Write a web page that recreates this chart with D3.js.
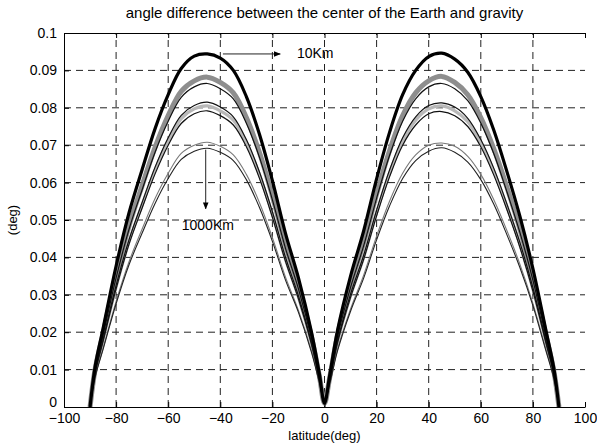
<!DOCTYPE html>
<html>
<head>
<meta charset="utf-8">
<script src="https://cdn.jsdelivr.net/npm/d3@7"></script>
<style>
  html, body { margin: 0; padding: 0; background: #fff; }
  svg { display: block; }
  text { font-family: "Liberation Sans", Arial, Helvetica, sans-serif; fill: #000; }
</style>
</head>
<body>
<svg id="chart" width="597" height="447"></svg>
<script>
// ---------- data ----------
const latitude = [-90,-88,-85,-80,-75,-70,-65,-60,-55,-50,-45,-40,-35,-30,-25,-20,-15,-10,-5,-2,0,
                  2,5,10,15,20,25,30,35,40,45,50,55,60,65,70,75,80,85,88,90];

const h10km   = [0,0.0110,0.0210,0.0377,0.0520,0.0635,0.0745,0.0835,0.0905,0.0938,0.0944,0.0933,0.0900,0.0830,0.0730,0.0605,0.0465,0.0345,0.0200,0.0090,0.0010,
                 0.0085,0.0205,0.0350,0.0470,0.0610,0.0735,0.0835,0.0900,0.0937,0.0946,0.0930,0.0895,0.0830,0.0740,0.0630,0.0510,0.0370,0.0205,0.0105,0];
const hSeries2 = [0,0.0103,0.0196,0.0352,0.0485,0.0592,0.0695,0.0779,0.0844,0.0872,0.0882,0.0868,0.0840,0.0774,0.0681,0.0564,0.0434,0.0322,0.0187,0.0084,0.0010,
                 0.0079,0.0191,0.0327,0.0439,0.0569,0.0686,0.0779,0.0840,0.0872,0.0884,0.0868,0.0835,0.0774,0.0690,0.0588,0.0476,0.0345,0.0191,0.0098,0];
const hSeries3 = [0,0.0101,0.0192,0.0345,0.0476,0.0581,0.0682,0.0764,0.0828,0.0856,0.0865,0.0851,0.0824,0.0759,0.0668,0.0554,0.0425,0.0316,0.0183,0.0082,0.0010,
                 0.0078,0.0188,0.0320,0.0430,0.0558,0.0673,0.0764,0.0824,0.0856,0.0865,0.0851,0.0819,0.0759,0.0677,0.0576,0.0467,0.0339,0.0188,0.0096,0];
const hSeries4 = [0,0.0095,0.0181,0.0325,0.0448,0.0547,0.0642,0.0720,0.0780,0.0806,0.0815,0.0802,0.0776,0.0715,0.0629,0.0522,0.0401,0.0297,0.0172,0.0078,0.0010,
                 0.0073,0.0177,0.0302,0.0405,0.0526,0.0634,0.0720,0.0776,0.0806,0.0813,0.0802,0.0772,0.0715,0.0638,0.0543,0.0440,0.0319,0.0177,0.0091,0];
const hSeries5 = [0,0.0094,0.0179,0.0321,0.0443,0.0541,0.0635,0.0711,0.0771,0.0797,0.0805,0.0792,0.0767,0.0707,0.0622,0.0515,0.0396,0.0294,0.0170,0.0077,0.0010,
                 0.0072,0.0175,0.0298,0.0400,0.0520,0.0626,0.0711,0.0767,0.0797,0.0805,0.0792,0.0763,0.0707,0.0630,0.0537,0.0435,0.0315,0.0175,0.0089,0];
const hSeries6 = [0,0.0092,0.0176,0.0316,0.0436,0.0532,0.0624,0.0700,0.0758,0.0784,0.0792,0.0779,0.0754,0.0696,0.0612,0.0507,0.0390,0.0289,0.0168,0.0075,0.0010,
                 0.0071,0.0172,0.0293,0.0394,0.0511,0.0616,0.0700,0.0754,0.0784,0.0790,0.0779,0.0750,0.0696,0.0620,0.0528,0.0427,0.0310,0.0172,0.0088,0];
const hSeries7 = [0,0.0082,0.0157,0.0282,0.0389,0.0476,0.0558,0.0625,0.0678,0.0700,0.0708,0.0697,0.0674,0.0622,0.0547,0.0453,0.0348,0.0258,0.0150,0.0067,0.0010,
                 0.0064,0.0154,0.0262,0.0352,0.0457,0.0551,0.0625,0.0674,0.0700,0.0706,0.0697,0.0670,0.0622,0.0554,0.0472,0.0382,0.0277,0.0154,0.0079,0];
const h1000km = [0,0.0081,0.0154,0.0276,0.0381,0.0465,0.0545,0.0611,0.0662,0.0684,0.0692,0.0681,0.0659,0.0608,0.0534,0.0443,0.0340,0.0253,0.0146,0.0066,0.0010,
                 0.0062,0.0150,0.0256,0.0344,0.0447,0.0538,0.0611,0.0659,0.0684,0.0693,0.0681,0.0655,0.0608,0.0542,0.0461,0.0373,0.0271,0.0150,0.0077,0];

const xTicks = [-100,-80,-60,-40,-20,0,20,40,60,80,100];
const yTicks = [0,0.01,0.02,0.03,0.04,0.05,0.06,0.07,0.08,0.09,0.1];
const yTickLabels = ["0","0.01","0.02","0.03","0.04","0.05","0.06","0.07","0.08","0.09","0.1"];

const titleText = "angle difference between the center of the Earth and gravity";
const xLabel = "latitude(deg)";
const yLabel = "(deg)";
const labelTop = "10Km";
const labelBottom = "1000Km";

// ---------- layout ----------
const W = 597, H = 447;
const m = {top: 33, right: 12, bottom: 40, left: 64};
const svg = d3.select("#chart");

const x = d3.scaleLinear().domain([-100, 100]).range([m.left, W - m.right]);
const y = d3.scaleLinear().domain([0, 0.1]).range([H - m.bottom, m.top]);

// grid
const grid = svg.append("g").attr("stroke", "#222").attr("stroke-width", 1).attr("stroke-dasharray", "7,5");
grid.selectAll("line.v").data(xTicks.slice(1, -1)).join("line")
  .attr("x1", d => x(d)).attr("x2", d => x(d)).attr("y1", y(0)).attr("y2", y(0.1));
grid.selectAll("line.h").data(yTicks.slice(1, -1)).join("line")
  .attr("y1", d => y(d)).attr("y2", d => y(d)).attr("x1", x(-100)).attr("x2", x(100));

// series
const series = [
  {v: hSeries5, color: "#b8b8b8", w: 3.2},
  {v: hSeries2, color: "#8e8e8e", w: 5},
  {v: hSeries7, color: "#7a7a7a", w: 1.1},
  {v: h1000km,  color: "#222",    w: 1.1},
  {v: hSeries6, color: "#111",    w: 1.2},
  {v: hSeries4, color: "#111",    w: 1.2},
  {v: hSeries3, color: "#111",    w: 1.2},
  {v: h10km,    color: "#000",    w: 3.2}
];
const line = d3.line().x((d, i) => x(latitude[i])).y(d => y(d)).curve(d3.curveCatmullRom.alpha(0.5));
const plot = svg.append("g");
plot.selectAll("path.s").data(series).join("path")
  .attr("fill", "none")
  .attr("stroke", d => d.color)
  .attr("stroke-width", d => d.w)
  .attr("stroke-linejoin", "round")
  .attr("d", d => line(d.v));

// axes box
const xAxisB = d3.axisBottom(x).tickValues(xTicks).tickSizeInner(-5).tickSizeOuter(0).tickPadding(6);
const xAxisT = d3.axisTop(x).tickValues(xTicks).tickSizeInner(-5).tickSizeOuter(0).tickFormat("");
const yAxisL = d3.axisLeft(y).tickValues(yTicks).tickSizeInner(-5).tickSizeOuter(0).tickPadding(7)
  .tickFormat((d, i) => yTickLabels[i]);
const yAxisR = d3.axisRight(y).tickValues(yTicks).tickSizeInner(-5).tickSizeOuter(0).tickFormat("");

function style(g) {
  g.selectAll("path.domain").attr("stroke", "#000").attr("stroke-width", 1);
  g.selectAll(".tick line").attr("stroke", "#000");
  g.selectAll("text").attr("font-size", 14).attr("fill", "#000")
    .attr("font-family", '"Liberation Sans", Arial, sans-serif');
}
svg.append("g").attr("transform", `translate(0,${y(0)})`).call(xAxisB).call(style);
svg.append("g").attr("transform", `translate(0,${y(0.1)})`).call(xAxisT).call(style);
const gy = svg.append("g").attr("transform", `translate(${x(-100)},0)`).call(yAxisL).call(style);
// raise the "0" label a little so it clears the "-100" label, as in the reference
gy.selectAll(".tick text").filter(d => d === 0).attr("dy", "-0.05em");

// title and labels
svg.append("text").attr("x", (x(-100) + x(100)) / 2).attr("y", 18)
  .attr("text-anchor", "middle").attr("font-size", 15).text(titleText);
svg.append("text").attr("x", (x(-100) + x(100)) / 2).attr("y", 440)
  .attr("text-anchor", "middle").attr("font-size", 13).text(xLabel);
svg.append("text").attr("transform", `translate(17,${(y(0) + y(0.1)) / 2}) rotate(-90)`)
  .attr("text-anchor", "middle").attr("font-size", 13).text(yLabel);

// annotations
const defs = svg.append("defs");
defs.append("marker").attr("id", "arr").attr("viewBox", "0 0 10 10")
  .attr("refX", 9).attr("refY", 5).attr("markerWidth", 7).attr("markerHeight", 7)
  .attr("markerUnits", "userSpaceOnUse").attr("orient", "auto")
  .append("path").attr("d", "M0,1 L10,5 L0,9 Z").attr("fill", "#000");

svg.append("line").attr("x1", x(-39)).attr("x2", x(-17)).attr("y1", y(0.0944)).attr("y2", y(0.0944))
  .attr("stroke", "#222").attr("stroke-width", 1).attr("marker-end", "url(#arr)");
svg.append("text").attr("x", x(-10.6)).attr("y", y(0.0932)).attr("font-size", 14).text(labelTop);

svg.append("line").attr("x1", x(-45.6)).attr("x2", x(-45.6)).attr("y1", y(0.0688)).attr("y2", y(0.0530))
  .attr("stroke", "#222").attr("stroke-width", 1).attr("marker-end", "url(#arr)");
svg.append("text").attr("x", x(-54.8)).attr("y", y(0.0474)).attr("font-size", 14).text(labelBottom);
</script>
</body>
</html>
